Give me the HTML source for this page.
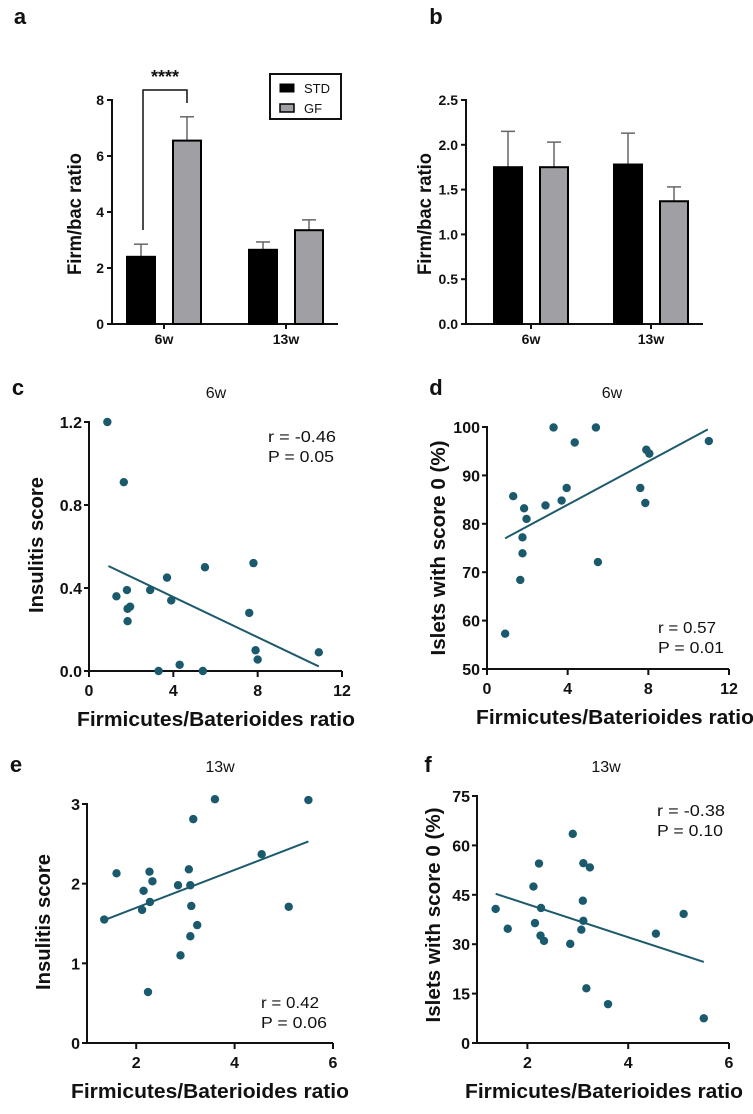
<!DOCTYPE html>
<html><head><meta charset="utf-8"><style>
body{margin:0;background:#fff}
svg{display:block;font-family:"Liberation Sans",sans-serif}
</style></head><body>
<svg id="s" width="753" height="1114" viewBox="0 0 753 1114"></svg>
<script>
// Panel a data
const barCats=["6w","13w"];
const aSTD=[2.4,2.65], aSTDerr=[2.85,2.93];
const aGF=[6.55,3.35], aGFerr=[7.4,3.72];
const aTicks=[0,2,4,6,8];
// Panel b data
const bSTD=[1.75,1.78], bSTDerr=[2.15,2.13];
const bGF=[1.75,1.37], bGFerr=[2.03,1.53];
const bTicks=["0.0","0.5","1.0","1.5","2.0","2.5"];
// Panel c
const cX=[0.87,1.65,1.3,1.8,1.83,1.95,1.83,2.9,3.7,3.9,3.3,4.3,5.5,5.4,7.8,7.6,7.9,8.0,10.9];
const cY=[1.2,0.91,0.36,0.39,0.30,0.31,0.24,0.39,0.45,0.34,0.0,0.03,0.50,0.0,0.52,0.28,0.10,0.055,0.09];
const cLineX=[0.92,10.9], cLineY=[0.506,0.022];
const cXTicks=[0,4,8,12], cYTicks=["0.0","0.4","0.8","1.2"];
// Panel d
const dX=[0.9,1.3,1.65,1.76,1.76,1.84,1.96,2.9,3.3,3.7,3.95,4.35,5.4,5.5,7.6,7.85,7.9,8.05,11];
const dY=[57.3,85.7,68.4,73.9,77.2,83.2,81,83.8,99.9,84.8,87.4,96.8,99.9,72.1,87.4,84.3,95.3,94.5,97.1];
const dLineX=[0.9,10.95], dLineY=[77,99.5];
const dXTicks=[0,4,8,12], dYTicks=[50,60,70,80,90,100];
// Panel e
const eX=[1.35,1.6,2.15,2.12,2.27,2.28,2.33,2.24,2.85,2.9,3.07,3.1,3.12,3.1,3.16,3.24,3.6,4.55,5.1,5.5];
const eY=[1.55,2.13,1.91,1.67,2.15,1.77,2.03,0.64,1.98,1.10,2.18,1.98,1.72,1.34,2.81,1.48,3.06,2.37,1.71,3.05];
const eLineX=[1.38,5.5], eLineY=[1.55,2.53];
const eXTicks=[2,4,6], eYTicks=[0,1,2,3];
// Panel f
const fX=[1.37,1.61,2.12,2.15,2.23,2.27,2.26,2.33,2.85,2.9,3.07,3.1,3.11,3.11,3.24,3.17,3.6,4.55,5.1,5.5];
const fY=[40.7,34.7,47.5,36.4,54.5,41.0,32.6,31.0,30.1,63.5,34.4,43.2,37.1,54.6,53.3,16.6,11.8,33.2,39.2,7.5];
const fLineX=[1.37,5.5], fLineY=[45.3,24.6];
const fXTicks=[2,4,6], fYTicks=[0,15,30,45,60,75];

const S=document.getElementById('s');
const NS="http://www.w3.org/2000/svg";
function el(tag,attrs,name,parent){
  const e=document.createElementNS(NS,tag);
  for(const k in attrs)e.setAttribute(k,attrs[k]);
  
  
  (parent||S).appendChild(e);return e;
}
function txt(x,y,s,size,opts,name){
  opts=opts||{};
  const t=el('text',{x:x,y:y,'font-size':size,'text-anchor':opts.anchor||'middle','font-weight':opts.weight||'bold',fill:'#111'},name);
  if(opts.rot)t.setAttribute('transform','rotate(-90 '+x+' '+y+')');
  if(opts.len){t.setAttribute('textLength',opts.len);t.setAttribute('lengthAdjust','spacingAndGlyphs');}
  t.textContent=s;return t;
}
function lin(d0,d1,r0,r1){return v=>r0+(v-d0)/(d1-d0)*(r1-r0);}

function barPanel(p){
  const y=lin(0,p.max,p.y0,p.y1);
  el('line',{x1:p.ax,y1:p.y1-1,x2:p.ax,y2:p.y0+1,stroke:'#111','stroke-width':2},p.id+'-y-axis');
  el('line',{x1:p.ax,y1:p.y0,x2:p.xEnd,y2:p.y0,stroke:'#111','stroke-width':2},p.id+'-x-axis');
  p.ticks.forEach(t=>{const v=parseFloat(t);const yy=y(v);
    el('line',{x1:p.ax-5,y1:yy,x2:p.ax,y2:yy,stroke:'#111','stroke-width':2},p.id+'-y-tick');
    txt(p.ax-8,yy+5,String(t),14,{anchor:'end'},p.id+'-y-tick-label');});
  barCats.forEach((c,i)=>{
    const cx=p.cats[i];
    el('line',{x1:cx,y1:p.y0,x2:cx,y2:p.y0+5,stroke:'#111','stroke-width':2},p.id+'-x-tick');
    txt(cx,p.y0+20,c,14,{},p.id+'-x-label-'+c);
    [[p.std,p.stdErr,'#000',-1,'std'],[p.gf,p.gfErr,'#a0a0a4',1,'gf']].forEach(([vals,errs,col,side,nm])=>{
      const w=p.bw, x0=cx+side*p.off-w/2;
      const top=y(vals[i]), et=y(errs[i]);
      el('line',{x1:x0+w/2,y1:top,x2:x0+w/2,y2:et,stroke:'#666','stroke-width':1.5},p.id+'-err-'+nm+'-'+c);
      el('line',{x1:x0+w/2-7,y1:et,x2:x0+w/2+7,y2:et,stroke:'#666','stroke-width':1.5},p.id+'-err-cap-'+nm+'-'+c);
      el('rect',{x:x0,y:top,width:w,height:p.y0-top,fill:col,stroke:'#000','stroke-width':2},p.id+'-bar-'+nm+'-'+c);
    });
  });
  txt(p.tx,(p.y0+p.y1)/2+2,'Firm/bac ratio',19,{rot:true,len:122},p.id+'-y-axis-title');
}
barPanel({id:'a',ax:112,y0:324,y1:100,max:8,xEnd:338,ticks:aTicks,cats:[164,286],off:23,bw:28,std:aSTD,stdErr:aSTDerr,gf:aGF,gfErr:aGFerr,tx:81});
barPanel({id:'b',ax:466,y0:324,y1:100,max:2.5,xEnd:703,ticks:bTicks,cats:[531,651],off:23,bw:28,std:bSTD,stdErr:bSTDerr,gf:bGF,gfErr:bGFerr,tx:431});
txt(20,24,'a',22,{},'panel-a-label');
txt(436,24,'b',22,{},'panel-b-label');
el('polyline',{points:'143,230 143,90 187,90 187,103',fill:'none',stroke:'#111','stroke-width':1.5},'significance-bracket');
txt(165,83,'****',18,{},'significance-stars');
el('rect',{x:270,y:74,width:71,height:45,fill:'#fff',stroke:'#111','stroke-width':2},'legend-box');
el('rect',{x:280,y:84,width:14,height:8,fill:'#000',stroke:'#000'},'legend-std-swatch');
txt(304,93,'STD',13,{anchor:'start',weight:'normal'},'legend-std-label');
el('rect',{x:280,y:104,width:14,height:8,fill:'#a0a0a4',stroke:'#000','stroke-width':1.5},'legend-gf-swatch');
txt(304,113,'GF',13,{anchor:'start',weight:'normal'},'legend-gf-label');

function scatter(p){
  const x=lin(p.xd[0],p.xd[1],p.x0,p.x1), y=lin(p.yd[0],p.yd[1],p.y0,p.y1);
  el('line',{x1:p.x0,y1:p.y1-1,x2:p.x0,y2:p.y0+1,stroke:'#111','stroke-width':2},p.id+'-y-axis');
  el('line',{x1:p.x0,y1:p.y0,x2:p.x1,y2:p.y0,stroke:'#111','stroke-width':2},p.id+'-x-axis');
  p.yt.forEach(t=>{const yy=y(parseFloat(t));
    el('line',{x1:p.x0-5,y1:yy,x2:p.x0,y2:yy,stroke:'#111','stroke-width':2},p.id+'-y-tick');
    txt(p.x0-7,yy+6,String(t),16,{anchor:'end'},p.id+'-y-tick-label');});
  p.xt.forEach(t=>{const xx=x(t);
    el('line',{x1:xx,y1:p.y0,x2:xx,y2:p.y0+6,stroke:'#111','stroke-width':2},p.id+'-x-tick');
    txt(xx,p.y0+25,String(t),16,{},p.id+'-x-tick-label');});
  el('line',{x1:x(p.lx[0]),y1:y(p.ly[0]),x2:x(p.lx[1]),y2:y(p.ly[1]),stroke:'#1d5a6c','stroke-width':2},p.id+'-regression-line');
  p.X.forEach((v,i)=>{
    el('circle',{cx:x(v),cy:y(p.Y[i]),r:4.2,fill:'#1a5a6c'},p.id+'-point');
  });
  txt(p.xtc,p.y0+55,'Firmicutes/Baterioides ratio',20,{len:278},p.id+'-x-axis-title');
  txt(p.tx,p.tyc,p.ytitle,20,{rot:true,len:p.tlen},p.id+'-y-axis-title');
  txt(p.lab[0],p.lab[1],p.id,22,{},'panel-'+p.id+'-label');
  txt(p.tt[0],p.tt[1],p.title,16,{weight:'normal'},p.id+'-title');
  txt(p.rp[0],p.rp[1],p.r,16,{anchor:'start',weight:'normal',len:p.rl},p.id+'-r-value');
  txt(p.rp[0],p.rp[1]+20,p.pv,16,{anchor:'start',weight:'normal',len:66},p.id+'-p-value');
}
scatter({id:'c',X:cX,Y:cY,lx:cLineX,ly:cLineY,xd:[0,12],yd:[0,1.2],x0:89,x1:342,y0:671,y1:422,xt:cXTicks,yt:cYTicks,
  ytitle:'Insulitis score',tx:43,tyc:545,tlen:136,xtc:216,lab:[18,395],tt:[216,398],title:'6w',rp:[268,442],r:'r = -0.46',rl:68,pv:'P = 0.05'});
scatter({id:'d',X:dX,Y:dY,lx:dLineX,ly:dLineY,xd:[0,12],yd:[50,100],x0:487,x1:729,y0:669,y1:427,xt:dXTicks,yt:dYTicks,
  ytitle:'Islets with score 0 (%)',tx:445,tyc:548,tlen:215,xtc:615,lab:[436,395],tt:[612,398],title:'6w',rp:[658,633],r:'r = 0.57',rl:58,pv:'P = 0.01'});
scatter({id:'e',X:eX,Y:eY,lx:eLineX,ly:eLineY,xd:[1,6],yd:[0,3],x0:87,x1:333,y0:1043,y1:804,xt:eXTicks,yt:eYTicks,
  ytitle:'Insulitis score',tx:50,tyc:922,tlen:136,xtc:210,lab:[16,772],tt:[220,772],title:'13w',rp:[261,1008],r:'r = 0.42',rl:58,pv:'P = 0.06'});
scatter({id:'f',X:fX,Y:fY,lx:fLineX,ly:fLineY,xd:[1,6],yd:[0,75],x0:477,x1:729,y0:1043,y1:796,xt:fXTicks,yt:fYTicks,
  ytitle:'Islets with score 0 (%)',tx:440,tyc:915,tlen:215,xtc:604,lab:[428,772],tt:[606,772],title:'13w',rp:[657,816],r:'r = -0.38',rl:68,pv:'P = 0.10'});
</script>
</body></html>
